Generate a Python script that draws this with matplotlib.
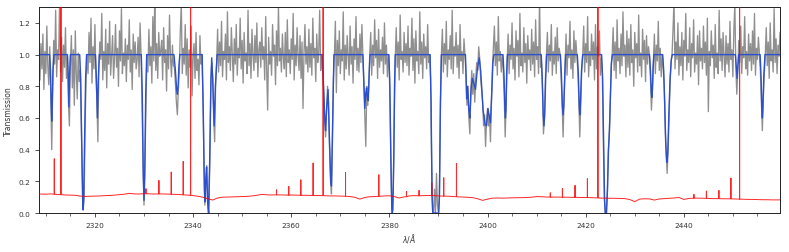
import matplotlib
matplotlib.use("Agg")
import matplotlib.pyplot as plt
import numpy as np
from matplotlib.ticker import MultipleLocator

# observed transmission, 0.2 A sampling starting at 2308.6 A (one row = 5 A)
flux_start = 2308.6
flux_step = 0.2
flux_rows = [
    [0.96, 0.84, 1.07, 0.91, 1.13, 0.78, 1.02, 0.88, 1.18, 0.93, 0.81, 1.05, 0.75, 0.40, 0.80, 1.09, 0.94, 1.28, 0.86, 1.03, 0.97, 1.34, 0.89, 1.11, 0.83],
    [1.06, 0.92, 1.17, 0.85, 0.99, 0.70, 0.55, 0.94, 1.12, 0.79, 1.03, 0.68, 1.15, 0.88, 0.72, 1.01, 0.83, 0.90, 0.60, 0.25, 0.02, 0.10, 0.55, 0.85, 1.00],
    [0.88, 1.14, 0.95, 1.23, 0.82, 1.05, 0.91, 1.19, 0.86, 0.72, 0.45, 0.92, 1.08, 0.97, 1.26, 0.84, 1.02, 0.90, 1.16, 0.79, 1.07, 0.94, 1.21, 0.87, 1.00],
    [1.12, 0.85, 0.98, 1.19, 0.92, 1.04, 0.80, 1.15, 0.96, 1.29, 0.88, 1.01, 0.93, 1.10, 0.83, 1.06, 0.97, 1.22, 0.89, 1.03, 0.78, 1.13, 0.95, 1.08, 0.91],
    [0.97, 1.11, 0.86, 1.20, 1.00, 0.70, 0.30, 0.05, 0.30, 0.70, 1.00, 0.89, 1.16, 0.93, 1.05, 0.82, 1.24, 0.96, 1.36, 0.90, 1.07, 0.85, 1.14, 0.99, 1.02],
    [1.09, 0.84, 1.17, 0.95, 1.03, 0.77, 1.12, 0.91, 1.25, 0.98, 0.86, 1.06, 0.93, 0.92, 0.82, 0.70, 0.62, 0.78, 0.90, 1.15, 1.32, 0.88, 1.04, 0.94, 1.19],
    [0.87, 1.10, 0.79, 1.03, 0.92, 1.18, 0.74, 0.99, 1.07, 0.85, 1.14, 0.90, 0.97, 0.81, 1.12, 0.94, 1.00, 0.75, 0.35, 0.05, 0.20, 0.30, 0.05, 0.00, 0.30],
    [0.80, 0.95, 0.85, 0.60, 0.45, 0.82, 0.95, 1.16, 0.89, 1.08, 0.93, 1.21, 0.86, 1.02, 0.97, 1.13, 0.84, 1.27, 0.95, 1.05, 0.90, 1.17, 0.99, 0.83, 1.10],
    [0.94, 1.19, 0.87, 1.04, 0.98, 1.23, 0.91, 1.09, 0.82, 1.14, 0.96, 1.01, 0.88, 1.28, 0.93, 1.07, 0.85, 1.16, 1.00, 0.90, 1.12, 0.95, 1.20, 0.86, 1.03],
    [1.08, 0.92, 1.17, 0.97, 1.05, 0.84, 1.24, 0.90, 0.65, 1.11, 0.94, 1.02, 0.87, 1.19, 0.99, 1.06, 0.81, 1.15, 0.93, 1.30, 0.96, 1.04, 0.89, 1.13, 0.98],
    [0.91, 1.14, 0.86, 1.22, 0.95, 1.03, 0.88, 1.10, 0.97, 1.26, 0.84, 1.06, 0.93, 1.17, 0.99, 0.90, 1.12, 0.85, 1.08, 0.66, 1.01, 1.19, 0.94, 1.05, 0.89],
    [1.16, 0.92, 1.07, 0.87, 1.23, 0.98, 1.04, 0.83, 1.13, 0.95, 1.01, 1.28, 0.90, 1.00, 0.90, 0.75, 0.60, 0.48, 0.65, 0.80, 0.70, 0.42, 0.22, 0.12, 0.45],
    [0.85, 1.00, 1.21, 0.76, 1.09, 0.93, 1.15, 0.88, 1.03, 0.96, 1.27, 0.84, 1.06, 0.91, 1.12, 0.99, 0.87, 1.18, 0.94, 1.05, 0.82, 1.10, 0.97, 1.24, 0.90],
    [1.04, 0.89, 1.13, 0.95, 1.19, 1.00, 0.80, 0.60, 0.42, 0.80, 0.68, 0.80, 1.00, 1.14, 0.87, 1.06, 0.93, 1.22, 0.98, 1.09, 0.85, 1.16, 0.92, 1.03, 0.96],
    [1.11, 0.88, 1.20, 0.94, 1.06, 0.86, 1.00, 0.90, 0.55, 0.15, 0.00, 0.15, 0.60, 0.98, 1.17, 0.92, 1.08, 0.84, 1.25, 0.97, 1.02, 0.89, 1.14, 0.95, 1.07],
    [0.93, 1.18, 0.87, 1.04, 0.99, 1.23, 0.90, 1.10, 0.82, 1.15, 0.96, 1.02, 0.88, 1.27, 0.94, 1.08, 0.85, 1.13, 0.98, 1.05, 0.91, 1.19, 0.95, 1.00, 0.85],
    [0.35, 0.02, 0.00, 0.15, 0.00, 0.25, 0.05, 0.00, 0.12, 0.65, 1.00, 1.16, 0.89, 1.07, 0.94, 1.21, 0.86, 1.03, 0.97, 1.12, 0.91, 1.28, 0.88, 1.05, 0.99],
    [1.14, 0.92, 1.06, 0.85, 1.19, 0.96, 1.02, 0.88, 1.10, 1.00, 0.88, 0.68, 0.80, 0.60, 0.50, 0.78, 0.90, 0.75, 0.88, 0.70, 0.85, 0.95, 0.90, 1.05, 0.98],
    [0.85, 0.78, 0.70, 0.55, 0.62, 0.42, 0.58, 0.66, 0.55, 0.62, 0.45, 0.70, 0.92, 1.05, 1.18, 0.93, 1.08, 0.87, 1.24, 0.96, 1.02, 0.89, 1.00, 0.90, 0.75],
    [0.48, 0.70, 0.95, 1.13, 0.88, 1.06, 0.97, 1.20, 0.91, 1.04, 0.84, 1.15, 0.99, 1.09, 0.86, 1.26, 0.93, 1.01, 0.89, 1.17, 0.95, 1.07, 0.82, 1.12, 0.97],
    [1.03, 0.90, 1.16, 0.94, 1.08, 0.86, 1.22, 0.97, 1.05, 0.88, 1.36, 0.92, 0.95, 0.78, 0.50, 0.60, 0.85, 1.00, 1.14, 0.89, 1.06, 0.96, 1.19, 0.87, 1.02],
    [0.94, 1.11, 0.88, 1.17, 0.96, 1.04, 1.00, 0.85, 0.70, 0.48, 0.72, 0.90, 1.13, 0.87, 1.06, 0.98, 1.21, 0.91, 1.03, 0.85, 1.15, 0.95, 1.09, 1.00, 0.90],
    [0.72, 0.48, 0.70, 0.90, 1.00, 1.18, 0.89, 1.07, 0.95, 1.24, 0.86, 1.02, 0.93, 1.13, 0.97, 1.08, 0.84, 1.19, 0.91, 1.05, 0.99, 1.15, 0.87, 0.98, 0.88],
    [0.45, 0.10, 0.00, 0.02, 0.12, 0.38, 0.50, 0.68, 0.92, 1.00, 1.17, 0.90, 1.08, 0.85, 1.22, 0.96, 1.04, 0.88, 1.13, 0.93, 1.27, 0.99, 1.06, 0.86, 1.15],
    [0.92, 1.10, 0.87, 1.19, 0.95, 1.03, 0.80, 1.14, 0.98, 1.07, 0.89, 1.25, 0.93, 1.01, 0.86, 1.16, 0.97, 1.09, 0.83, 1.12, 0.94, 1.05, 1.00, 0.85, 0.65],
    [0.78, 0.95, 1.13, 0.88, 1.06, 0.96, 1.21, 0.90, 1.04, 0.86, 1.00, 0.92, 0.80, 0.55, 0.38, 0.25, 0.40, 0.60, 0.82, 0.95, 1.00, 1.16, 1.34, 0.91, 1.08],
    [0.97, 1.20, 0.87, 1.05, 0.93, 1.14, 0.84, 1.09, 0.99, 1.26, 0.90, 1.03, 0.95, 1.17, 0.86, 1.07, 0.98, 1.22, 0.89, 1.01, 0.94, 1.12, 0.81, 1.15, 0.96],
    [1.04, 0.91, 1.18, 0.95, 1.08, 0.87, 1.23, 0.64, 1.02, 0.93, 1.15, 0.98, 1.06, 0.85, 1.19, 0.92, 1.01, 0.88, 1.28, 0.96, 1.10, 0.90, 1.14, 0.99, 0.86],
    [1.12, 0.94, 1.07, 0.89, 1.21, 0.97, 1.03, 0.86, 1.16, 1.32, 0.92, 0.75, 0.90, 1.09, 0.95, 1.18, 0.88, 1.05, 0.98, 1.24, 0.91, 1.02, 0.87, 1.13, 0.96],
    [1.07, 0.90, 1.15, 0.94, 1.26, 0.87, 1.04, 0.97, 1.11, 1.00, 0.90, 0.70, 0.52, 0.72, 0.88, 1.00, 1.17, 0.93, 1.08, 0.85, 1.20, 0.96, 1.03, 0.89, 1.29],
    [0.95, 1.10, 0.88, 1.06, 0.99, 1.14],
]

# fitted model, breakpoints (wavelength, transmission)
model_wave = [
    2308.6,
    2310.75, 2310.95, 2311.1, 2311.2, 2311.3, 2311.45, 2311.65,
    2314.4, 2314.55, 2314.7, 2314.85, 2315.0,
    2316.9, 2317.1, 2317.3, 2317.5, 2317.6, 2317.7, 2317.9, 2318.1, 2318.3,
    2320.1, 2320.3, 2320.5, 2320.7, 2320.9,
    2329.45, 2329.65, 2329.85, 2330.0, 2330.15, 2330.35, 2330.55,
    2336.1, 2336.4, 2336.65, 2336.8, 2336.95, 2337.1, 2337.3,
    2341.85, 2342.1, 2342.3, 2342.42, 2342.6, 2342.75, 2342.95, 2343.15, 2343.4, 2343.65, 2343.8, 2344.0, 2344.3, 2344.55, 2344.9,
    2366.3, 2366.6, 2366.85, 2367.0, 2367.2, 2367.5, 2367.8, 2368.05, 2368.2, 2368.4, 2368.7,
    2374.6, 2374.85, 2375.0, 2375.2, 2375.35, 2375.55, 2375.7, 2375.85, 2376.05,
    2379.9, 2380.1, 2380.3, 2380.5, 2380.6, 2380.7, 2380.9, 2381.05, 2381.2,
    2388.3, 2388.5, 2388.7, 2388.85, 2390.05, 2390.2, 2390.4, 2390.6,
    2395.5, 2395.6, 2395.75, 2395.95, 2396.2, 2396.4, 2396.65, 2396.9, 2397.2, 2397.55, 2397.9, 2398.3,
    2398.6, 2399.1, 2399.5, 2399.8, 2400.1, 2400.3, 2400.6, 2400.85, 2401.1, 2401.3,
    2403.15, 2403.35, 2403.55, 2403.65, 2403.75, 2403.9, 2404.05,
    2410.95, 2411.15, 2411.35, 2411.5, 2411.65, 2411.85, 2412.05,
    2414.85, 2415.05, 2415.25, 2415.4, 2415.55, 2415.75, 2415.9,
    2418.3, 2418.5, 2418.7, 2418.8, 2418.95, 2419.15, 2419.4,
    2423.25, 2423.45, 2423.65, 2423.85, 2424.0, 2424.25, 2424.45, 2424.65, 2424.85, 2425.05, 2425.25, 2425.45,
    2433.0, 2433.2, 2433.4, 2433.5, 2433.6, 2433.75, 2433.9,
    2435.7, 2435.9, 2436.1, 2436.3, 2436.5, 2436.6, 2436.75, 2436.95, 2437.2, 2437.45, 2437.65,
    2450.5, 2450.7, 2450.85, 2451.0, 2451.2,
    2455.55, 2455.75, 2455.9, 2456.0, 2456.1, 2456.3, 2456.55,
    2459.6,
]
model_flux = [
    1.0,
    1.0, 0.9, 0.68, 0.58, 0.68, 0.9, 1.0,
    1.0, 0.88, 0.67, 0.88, 1.0,
    1.0, 0.85, 0.45, 0.08, 0.02, 0.08, 0.45, 0.85, 1.0,
    1.0, 0.85, 0.6, 0.85, 1.0,
    1.0, 0.75, 0.25, 0.08, 0.25, 0.75, 1.0,
    1.0, 0.9, 0.78, 0.75, 0.8, 0.92, 1.0,
    1.0, 0.6, 0.15, 0.07, 0.22, 0.29, 0.08, 0.0, 0.35, 0.85, 0.98, 0.85, 0.55, 0.8, 1.0,
    1.0, 0.8, 0.58, 0.52, 0.65, 0.78, 0.45, 0.2, 0.17, 0.5, 1.0,
    1.0, 0.78, 0.66, 0.76, 0.79, 0.72, 0.71, 0.85, 1.0,
    1.0, 0.8, 0.35, 0.02, 0.0, 0.02, 0.35, 0.8, 1.0,
    1.0, 0.7, 0.1, 0.0, 0.0, 0.1, 0.7, 1.0,
    1.0, 0.9, 0.72, 0.8, 0.65, 0.6, 0.78, 0.85, 0.82, 0.78, 0.9, 0.98,
    0.9, 0.65, 0.56, 0.55, 0.66, 0.62, 0.57, 0.75, 0.95, 1.0,
    1.0, 0.88, 0.65, 0.6, 0.65, 0.88, 1.0,
    1.0, 0.85, 0.62, 0.55, 0.62, 0.85, 1.0,
    1.0, 0.88, 0.68, 0.62, 0.68, 0.88, 1.0,
    1.0, 0.88, 0.67, 0.62, 0.7, 0.9, 1.0,
    1.0, 0.85, 0.45, 0.08, 0.0, 0.0, 0.15, 0.4, 0.52, 0.75, 0.95, 1.0,
    1.0, 0.9, 0.75, 0.73, 0.78, 0.92, 1.0,
    1.0, 0.9, 0.7, 0.45, 0.33, 0.32, 0.4, 0.62, 0.85, 0.97, 1.0,
    1.0, 0.92, 0.85, 0.92, 1.0,
    1.0, 0.85, 0.65, 0.6, 0.66, 0.87, 1.0,
    1.0,
]

# error spectrum: smooth part on a 1 A grid starting at 2308 A
err_start = 2308
err_base = [
    0.120,
    0.120, 0.119, 0.121, 0.118, 0.116, 0.114, 0.113, 0.112,
    0.107, 0.105, 0.106, 0.107, 0.108, 0.110, 0.111, 0.113,
    0.116, 0.119, 0.124, 0.121, 0.120, 0.122, 0.121, 0.120,
    0.121, 0.120, 0.119, 0.118, 0.117, 0.115, 0.113, 0.110,
    0.106, 0.100, 0.090, 0.082, 0.095, 0.100, 0.101, 0.102,
    0.103, 0.104, 0.105, 0.108, 0.112, 0.118, 0.115, 0.114,
    0.115, 0.114, 0.113, 0.114, 0.113, 0.112, 0.112, 0.111,
    0.111, 0.110, 0.109, 0.108, 0.108, 0.107, 0.106, 0.104,
    0.099, 0.088, 0.098, 0.103, 0.104, 0.106, 0.108, 0.109,
    0.104, 0.095, 0.102, 0.108, 0.110, 0.109, 0.110, 0.111,
    0.110, 0.108, 0.107, 0.106, 0.104, 0.102, 0.101, 0.099,
    0.097, 0.090, 0.080, 0.088, 0.094, 0.095, 0.094, 0.095,
    0.096, 0.097, 0.097, 0.098, 0.100, 0.104, 0.103, 0.101,
    0.100, 0.101, 0.100, 0.100, 0.099, 0.099, 0.098, 0.098,
    0.097, 0.096, 0.094, 0.094, 0.093, 0.093, 0.092, 0.091,
    0.085, 0.072, 0.088, 0.090, 0.089, 0.082, 0.089, 0.091,
    0.093, 0.095, 0.098, 0.086, 0.092, 0.094, 0.094, 0.093,
    0.092, 0.091, 0.091, 0.090, 0.090, 0.089, 0.088, 0.087,
    0.086, 0.086, 0.085, 0.084, 0.084, 0.083, 0.083,
    0.083,
]
# narrow spikes in the error spectrum: wavelength, local level, peak
spike_wave = [2311.72, 2313.08, 2330.4, 2333.04, 2335.55, 2337.99, 2339.5,
              2357.0, 2359.5, 2361.96, 2364.46, 2366.5, 2371.07, 2377.85,
              2383.49, 2386.05, 2388.64, 2391.08, 2393.67, 2412.8, 2415.26,
              2417.83, 2420.35, 2422.5, 2442.06, 2444.6, 2447.15, 2449.6, 2451.37]
spike_base = [0.119, 0.116, 0.122, 0.121, 0.119, 0.115, 0.112,
              0.115, 0.113, 0.112, 0.111, 0.110, 0.106, 0.106,
              0.103, 0.109, 0.111, 0.107, 0.103, 0.101, 0.100,
              0.099, 0.098, 0.096, 0.094, 0.093, 0.091, 0.090, 0.088]
spike_peak = [0.343, 1.6, 0.154, 0.206, 0.259, 0.326, 1.6,
              0.147, 0.168, 0.21, 0.316, 1.6, 0.255, 0.242,
              0.137, 0.143, 0.19, 0.223, 0.312, 0.128, 0.154,
              0.175, 0.217, 1.6, 0.118, 0.139, 0.143, 0.221, 1.6]

for row in flux_rows[:-1]:
    assert len(row) == 25, len(row)
assert len(model_wave) == len(model_flux), (len(model_wave), len(model_flux))

flux = np.concatenate([np.array(r) for r in flux_rows])
flux_wave = flux_start + flux_step * np.arange(len(flux))

# merge spikes into the error spectrum
err_pts = [(err_start + i, v) for i, v in enumerate(err_base)]
for w, b, p in zip(spike_wave, spike_base, spike_peak):
    err_pts += [(w - 0.01, b), (w, p), (w + 0.01, b)]
err_pts.sort()
err_wave = [p[0] for p in err_pts]
err_flux = [p[1] for p in err_pts]

fig = plt.figure(figsize=(7.89, 2.53), dpi=100)
ax = fig.add_axes([0.0494, 0.154, 0.9392, 0.814])

ax.plot(flux_wave, flux, color="#7c7c7c", lw=0.95, alpha=0.85, zorder=1)
ax.plot(model_wave, model_flux, color="#2b4fcf", lw=1.0, zorder=2)
ax.plot(err_wave, err_flux, color="red", lw=0.7, alpha=0.85, zorder=3)

ax.set_xlim(2308.6, 2459.6)
ax.set_ylim(0, 1.3)
ax.xaxis.set_major_locator(MultipleLocator(20))
ax.xaxis.set_minor_locator(MultipleLocator(5))
ax.yaxis.set_major_locator(MultipleLocator(0.2))
ax.tick_params(axis="both", which="major", labelsize=5.3, length=3, width=0.6,
               colors="#333333", labelcolor="#333333")
ax.tick_params(axis="x", which="minor", length=2, width=0.5, colors="#333333")
for sp in ax.spines.values():
    sp.set_linewidth(0.7)
    sp.set_color("#222222")

ax.set_xlabel(r"$\lambda/\AA$", fontsize=5.5, color="#333333", labelpad=2)
ax.set_ylabel("Transmission", fontsize=5.5, color="#333333", labelpad=4)

fig.savefig("out.png", dpi=100)
